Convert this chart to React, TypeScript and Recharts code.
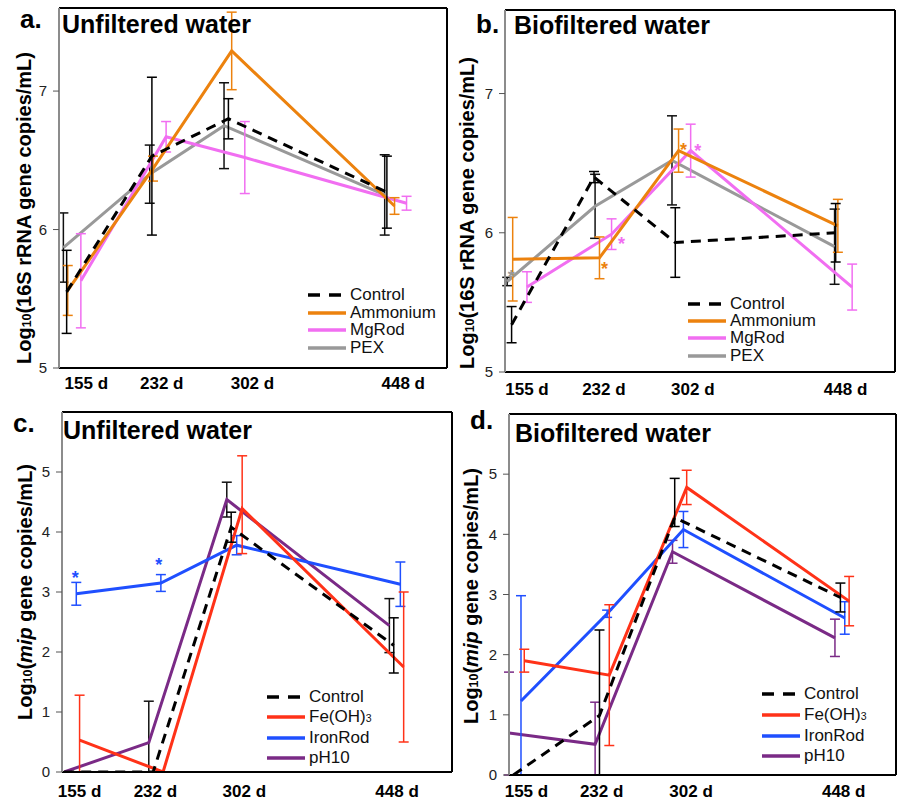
import type { ReactNode } from "react";
import { ErrorBar, Line, LineChart, ReferenceLine, XAxis, YAxis } from "recharts";

type Err = number | [number, number];

const dayLabels = ["155 d", "232 d", "302 d", "448 d"];
const dayDomain: [number, number] = [148, 503];

// a. 16S rRNA, unfiltered water
const aControlDay = [155, 233, 303, 448];
const aControl = [5.55, 6.53, 6.8, 6.27];
const aControlErr: Err[] = [0.3, 0.57, 0.145, 0.26];
const aAmmoniumDay = [156, 234, 306, 455];
const aAmmonium = [5.56, 6.44, 7.29, 6.17];
const aAmmoniumErr: Err[] = [0.18, 0.09, 0.28, 0.06];
const aMgRodDay = [168, 246, 318, 466];
const aMgRod = [5.63, 6.67, 6.52, 6.19];
const aMgRodErr: Err[] = [0.34, 0.11, 0.26, 0.05];
const aPexDay = [152, 231, 299, 446];
const aPex = [5.87, 6.4, 6.75, 6.25];
const aPexErr: Err[] = [0.25, 0.21, 0.31, 0.29];

// b. 16S rRNA, biofiltered water
const bControlDay = [154, 229, 303, 449];
const bControl = [5.34, 6.4, 5.93, 6.0];
const bControlErr: Err[] = [0.13, 0.04, 0.25, 0.21];
const bAmmoniumDay = [155, 234, 306, 451];
const bAmmonium = [5.81, 5.82, 6.59, 6.05];
const bAmmoniumErr: Err[] = [0.3, 0.15, 0.155, 0.19];
const bAmmoniumStar = [0, 1, 1, 0];
const bMgRodDay = [168, 245, 317, 464];
const bMgRod = [5.61, 5.99, 6.59, 5.61];
const bMgRodErr: Err[] = [0.11, 0.11, 0.19, 0.165];
const bMgRodStar = [0, 1, 1, 0];
const bPexDay = [150, 230, 300, 448];
const bPex = [5.65, 6.19, 6.52, 5.9];
const bPexErr: Err[] = [0.03, 0.23, 0.32, 0.27];
const bPexStar = [1, 0, 0, 0];

// c. mip, unfiltered water
const cControlDay = [150, 231, 302, 450];
const cControl = [0, 0, 4.08, 2.11];
const cControlErr: Err[] = [0, 0, 0.25, 0.46];
const cFeDay = [164, 240, 312, 459];
const cFe = [0.53, 0, 4.39, 1.75];
const cFeErr: Err[] = [[0.53, 0.75], 0, [0.75, 0.88], 1.25];
const cIronRodDay = [161, 238, 307, 456];
const cIronRod = [2.97, 3.15, 3.78, 3.13];
const cIronRodErr: Err[] = [0.19, 0.14, 0.16, 0.37];
const cIronRodStar = [1, 1, 0, 0];
const cPh10Day = [150, 227, 298, 446];
const cPh10 = [0, 0.49, 4.54, 2.44];
const cPh10Err: Err[] = [0, [0.49, 0.69], 0.29, 0.45];

// d. mip, biofiltered water
const dControlDay = [152, 231, 300, 452];
const dControl = [0, 0.99, 4.28, 2.95];
const dControlErr: Err[] = [0, [0.99, 1.42], [0.15, 0.65], 0.24];
const dFeDay = [162, 240, 311, 460];
const dFe = [1.9, 1.66, 4.78, 2.89];
const dFeErr: Err[] = [0.19, 1.17, 0.285, 0.41];
const dIronRodDay = [159, 238, 308, 456];
const dIronRod = [1.23, 2.68, 4.08, 2.61];
const dIronRodErr: Err[] = [[1.23, 1.75], 0.06, 0.3, 0.27];
const dPh10Day = [148, 227, 298, 447];
const dPh10 = [0.7, 0.51, 3.71, 2.28];
const dPh10Err: Err[] = [[0.7, 1.01], [0.51, 0.7], 0.19, 0.31];

const FONT = '"Liberation Sans", Arial, sans-serif';
const BLACK = "#000";
const ORANGE = "#ec820e";
const PINK = "#f16ef1";
const GREY = "#999999";
const RED = "#ff3218";
const BLUE = "#1f4fff";
const PURPLE = "#7a2a86";

type Row = { x: number; y: number; err: Err; star: boolean };

function rows(days: number[], vals: number[], errs: Err[], stars?: number[]): Row[] {
  return days.map((x, i) => ({ x, y: vals[i], err: errs[i], star: stars ? stars[i] === 1 : false }));
}

type Series = {
  name: ReactNode;
  color: string;
  errColor: string;
  dash?: string;
  data: Row[];
  starAt?: Record<number, [number, number]>;
};

const Fe = (
  <>
    Fe(OH)<span style={{ fontSize: "0.62em" }}>3</span>
  </>
);

const seriesA: Series[] = [
  { name: "Control", color: BLACK, errColor: BLACK, dash: "10 7", data: rows(aControlDay, aControl, aControlErr) },
  { name: "Ammonium", color: ORANGE, errColor: ORANGE, data: rows(aAmmoniumDay, aAmmonium, aAmmoniumErr) },
  { name: "MgRod", color: PINK, errColor: PINK, data: rows(aMgRodDay, aMgRod, aMgRodErr) },
  { name: "PEX", color: GREY, errColor: "#111", data: rows(aPexDay, aPex, aPexErr) },
];

const seriesB: Series[] = [
  { name: "Control", color: BLACK, errColor: BLACK, dash: "10 7", data: rows(bControlDay, bControl, bControlErr) },
  {
    name: "Ammonium",
    color: ORANGE,
    errColor: ORANGE,
    data: rows(bAmmoniumDay, bAmmonium, bAmmoniumErr, bAmmoniumStar),
    starAt: { 1: [5, 7], 2: [5, -5] },
  },
  {
    name: "MgRod",
    color: PINK,
    errColor: PINK,
    data: rows(bMgRodDay, bMgRod, bMgRodErr, bMgRodStar),
    starAt: { 1: [10, 6], 2: [7, -4] },
  },
  {
    name: "PEX",
    color: GREY,
    errColor: "#111",
    data: rows(bPexDay, bPex, bPexErr, bPexStar),
    starAt: { 0: [4, -9] },
  },
];

const seriesC: Series[] = [
  { name: "Control", color: BLACK, errColor: BLACK, dash: "10 7", data: rows(cControlDay, cControl, cControlErr) },
  { name: Fe, color: RED, errColor: RED, data: rows(cFeDay, cFe, cFeErr) },
  {
    name: "IronRod",
    color: BLUE,
    errColor: BLUE,
    data: rows(cIronRodDay, cIronRod, cIronRodErr, cIronRodStar),
    starAt: { 0: [-1, -20], 1: [-2, -22] },
  },
  { name: "pH10", color: PURPLE, errColor: "#111", data: rows(cPh10Day, cPh10, cPh10Err) },
];

const seriesD: Series[] = [
  { name: "Control", color: BLACK, errColor: BLACK, dash: "10 7", data: rows(dControlDay, dControl, dControlErr) },
  { name: Fe, color: RED, errColor: RED, data: rows(dFeDay, dFe, dFeErr) },
  { name: "IronRod", color: BLUE, errColor: BLUE, data: rows(dIronRodDay, dIronRod, dIronRodErr) },
  { name: "pH10", color: PURPLE, errColor: PURPLE, data: rows(dPh10Day, dPh10, dPh10Err) },
];

const rrnaLabel = (
  <>
    Log<span style={{ fontSize: "0.62em" }}>10</span>(16S rRNA gene copies/mL)
  </>
);
const mipLabel = (
  <>
    Log<span style={{ fontSize: "0.62em" }}>10</span>(<i>mip</i> gene copies/mL)
  </>
);

type PanelProps = {
  left: number;
  top: number;
  width: number;
  height: number;
  mt: number;
  mr: number;
  yW: number;
  xH: number;
  tickGap: number;
  yDomain: [number, number];
  yTicks: number[];
  xTicks: number[];
  series: Series[];
};

function starDot(s: Series) {
  return (props: any) => {
    const { cx, cy, index, payload } = props;
    const off = s.starAt?.[index];
    if (!payload?.star || !off) return <g key={`s${index}`} />;
    return (
      <text
        key={`s${index}`}
        x={cx + off[0]}
        y={cy + off[1] + 10}
        fill={s.color}
        fontSize={18}
        fontWeight="bold"
        textAnchor="middle"
      >
        *
      </text>
    );
  };
}

function Panel(p: PanelProps) {
  return (
    <div style={{ position: "absolute", left: p.left, top: p.top }}>
      <LineChart width={p.width} height={p.height} margin={{ top: p.mt, right: p.mr, bottom: 0, left: 0 }}>
        <XAxis
          xAxisId="x"
          dataKey="x"
          type="number"
          domain={dayDomain}
          allowDataOverflow
          ticks={p.xTicks}
          interval={0}
          tickFormatter={(_v: number, i: number) => dayLabels[i]}
          tickLine={false}
          tickSize={0}
          tickMargin={p.tickGap}
          height={p.xH}
          axisLine={{ stroke: BLACK, strokeWidth: 2 }}
          tick={{ fill: "#000", fontSize: 17, fontWeight: "bold" }}
        />
        <YAxis
          yAxisId="y"
          type="number"
          domain={p.yDomain}
          allowDataOverflow
          ticks={p.yTicks}
          interval={0}
          width={p.yW}
          tickSize={6}
          tickMargin={6}
          axisLine={{ stroke: "#8c8c8c", strokeWidth: 2 }}
          tickLine={{ stroke: "#555" }}
          tick={{ fill: "#222", fontSize: 15 }}
        />
        <ReferenceLine xAxisId="x" yAxisId="y" y={p.yDomain[1]} stroke={BLACK} strokeWidth={2} />
        <ReferenceLine xAxisId="x" yAxisId="y" x={dayDomain[1]} stroke={BLACK} strokeWidth={2} />
        {[...p.series].reverse().map((s, i) => (
          <Line
            key={i}
            xAxisId="x"
            yAxisId="y"
            data={s.data}
            dataKey="y"
            type="linear"
            stroke={s.color}
            strokeWidth={3}
            strokeDasharray={s.dash}
            dot={starDot(s)}
            activeDot={false}
            isAnimationActive={false}
          >
            <ErrorBar
              dataKey="err"
              direction="y"
              width={5}
              stroke={s.errColor}
              strokeWidth={1.5}
              isAnimationActive={false}
            />
          </Line>
        ))}
      </LineChart>
    </div>
  );
}

function LegendBox({ left, top, rowH, series }: { left: number; top: number; rowH: number; series: Series[] }) {
  return (
    <div style={{ position: "absolute", left, top, fontSize: 17, color: "#111" }}>
      {series.map((s, i) => (
        <div key={i} style={{ display: "flex", alignItems: "center", height: rowH, whiteSpace: "nowrap" }}>
          <svg width={38} height={6} style={{ display: "block" }}>
            <line x1={0} y1={3} x2={38} y2={3} stroke={s.color} strokeWidth={3.5} strokeDasharray={s.dash ? "12 9" : undefined} />
          </svg>
          <span style={{ marginLeft: 4 }}>{s.name}</span>
        </div>
      ))}
    </div>
  );
}

function Text({ left, top, size, children }: { left: number; top: number; size: number; children: ReactNode }) {
  return (
    <div
      style={{
        position: "absolute",
        left,
        top,
        fontSize: size,
        lineHeight: 1,
        fontWeight: "bold",
        whiteSpace: "nowrap",
        color: "#000",
      }}
    >
      {children}
    </div>
  );
}

function YTitle({ cx, cy, children }: { cx: number; cy: number; children: ReactNode }) {
  return (
    <div
      style={{
        position: "absolute",
        left: cx,
        top: cy,
        transform: "translate(-50%, -50%) rotate(-90deg)",
        fontSize: 20,
        lineHeight: 1,
        fontWeight: "bold",
        whiteSpace: "nowrap",
        color: "#000",
      }}
    >
      {children}
    </div>
  );
}

export default function App() {
  return (
    <div
      style={{
        position: "absolute",
        left: 0,
        top: 0,
        width: 898,
        height: 807,
        background: "#fff",
        fontFamily: FONT,
        overflow: "hidden",
      }}
    >
      <Panel left={0} top={0} width={460} height={400} mt={8} mr={13} yW={59} xH={32} tickGap={9}
        yDomain={[5, 7.6]} yTicks={[5, 6, 7]} xTicks={[173, 242, 325, 463]} series={seriesA} />
      <Panel left={450} top={0} width={448} height={400} mt={10} mr={3} yW={55} xH={28} tickGap={11}
        yDomain={[5, 7.6]} yTicks={[5, 6, 7]} xTicks={[168, 238, 319, 458]} series={seriesB} />
      <Panel left={0} top={400} width={460} height={407} mt={12} mr={8} yW={62} xH={35} tickGap={13}
        yDomain={[0, 6]} yTicks={[0, 1, 2, 3, 4, 5]} xTicks={[164, 233, 314, 453]} series={seriesC} />
      <Panel left={450} top={400} width={448} height={407} mt={14} mr={2} yW={59} xH={32} tickGap={10}
        yDomain={[0, 6]} yTicks={[0, 1, 2, 3, 4, 5]} xTicks={[164, 233, 315, 455]} series={seriesD} />

      <Text left={20} top={6} size={26}>a.</Text>
      <Text left={476} top={11} size={26}>b.</Text>
      <Text left={13} top={410} size={26}>c.</Text>
      <Text left={470} top={407} size={26}>d.</Text>

      <Text left={62} top={12} size={25}>Unfiltered water</Text>
      <Text left={514} top={13} size={25}>Biofiltered water</Text>
      <Text left={63} top={418} size={25}>Unfiltered water</Text>
      <Text left={515} top={421} size={25}>Biofiltered water</Text>

      <YTitle cx={24} cy={208}>{rrnaLabel}</YTitle>
      <YTitle cx={467} cy={213}>{rrnaLabel}</YTitle>
      <YTitle cx={25} cy={592}>{mipLabel}</YTitle>
      <YTitle cx={471} cy={596}>{mipLabel}</YTitle>

      <LegendBox left={308} top={286} rowH={17.7} series={seriesA} />
      <LegendBox left={688} top={295} rowH={17.3} series={seriesB} />
      <LegendBox left={267} top={687} rowH={20.3} series={seriesC} />
      <LegendBox left={762} top={684} rowH={20.7} series={seriesD} />
    </div>
  );
}
